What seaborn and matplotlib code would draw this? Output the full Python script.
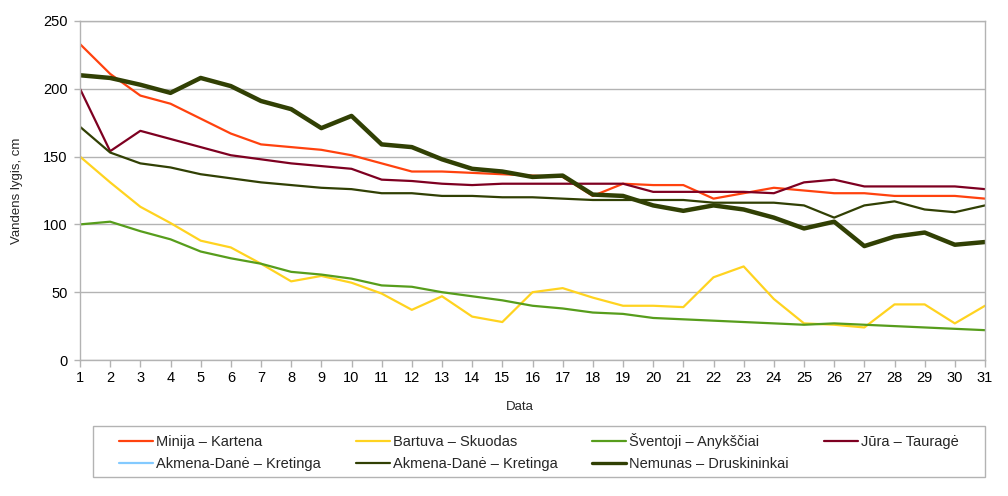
import numpy as np
import pandas as pd
import matplotlib
matplotlib.use("Agg")
import matplotlib.pyplot as plt
from matplotlib.patches import Rectangle
import seaborn as sns

# water levels (cm), days 1..31
days = list(range(1, 32))
minija = [233, 211, 195, 189, 178, 167, 159, 157, 155, 151, 145, 139, 139, 138, 137, 136, 135,
          121, 130, 129, 129, 119, 123, 127, 125, 123, 123, 121, 121, 121, 119]
bartuva = [150, 131, 113, 101, 88, 83, 71, 58, 62, 57, 49, 37, 47, 32, 28, 50, 53, 46, 40, 40,
           39, 61, 69, 45, 27, 26, 24, 41, 41, 27, 40]
sventoji = [100, 102, 95, 89, 80, 75, 71, 65, 63, 60, 55, 54, 50, 47, 44, 40, 38, 35, 34, 31,
            30, 29, 28, 27, 26, 27, 26, 25, 24, 23, 22]
jura = [200, 154, 169, 163, 157, 151, 148, 145, 143, 141, 133, 132, 130, 129, 130, 130, 130,
        130, 130, 124, 124, 124, 124, 123, 131, 133, 128, 128, 128, 128, 126]
akmena_empty = [np.nan] * 31  # series in legend, no data shown
akmena = [172, 153, 145, 142, 137, 134, 131, 129, 127, 126, 123, 123, 121, 121, 120, 120, 119,
          118, 118, 118, 118, 116, 116, 116, 114, 105, 114, 117, 111, 109, 114]
nemunas = [210, 208, 203, 197, 208, 202, 191, 185, 171, 180, 159, 157, 148, 141, 139, 135, 136,
           122, 121, 114, 110, 114, 111, 105, 97, 102, 84, 91, 94, 85, 87]

names = ["Minija – Kartena", "Bartuva – Skuodas", "Šventoji – Anykščiai", "Jūra – Tauragė",
         "Akmena-Danė – Kretinga", "Akmena-Danė – Kretinga", "Nemunas – Druskininkai"]
colors = ["#ff420e", "#ffd320", "#579d1c", "#7e0021", "#83caff", "#314004", "#314004"]
widths = [1.6, 1.6, 1.6, 1.6, 1.6, 1.6, 3.2]
series = [minija, bartuva, sventoji, jura, akmena_empty, akmena, nemunas]

sns.set_style("white")
plt.rcParams['font.family'] = ['Liberation Sans', 'DejaVu Sans']
plt.rcParams['font.size'] = 10

fig = plt.figure(figsize=(10.08, 4.96), dpi=100)
ax = fig.add_axes([80 / 1008, 1 - 360 / 496, 905 / 1008, 339 / 496])

for name, vals, c, lw in zip(names, series, colors, widths):
    if np.all(np.isnan(vals)):
        ax.plot(days, vals, color=c, linewidth=lw)
    else:
        df = pd.DataFrame({"Data": days, "lygis": vals})
        sns.lineplot(data=df, x="Data", y="lygis", color=c, linewidth=lw, ax=ax)

ax.set_xlim(1, 31)
ax.set_ylim(0, 250)
ax.set_xticks(days)
ax.set_yticks(range(0, 251, 50))
ax.yaxis.grid(True, color="#b3b3b3", linewidth=1)
ax.set_axisbelow(True)
for s in ax.spines.values():
    s.set_color("#b3b3b3")
    s.set_linewidth(1)
ax.tick_params(axis="both", colors="#b3b3b3", labelcolor="black", labelsize=10.5, width=1)
ax.tick_params(axis="x", length=5, pad=3, direction="out", bottom=True)
ax.tick_params(axis="y", length=4, pad=5, direction="out", left=True)
ax.set_xlabel("Data", fontsize=9.5)
ax.xaxis.set_label_coords((519.5 - 80) / 905, (360 - 401) / 339)
ax.set_ylabel("Vandens lygis, cm", fontsize=9.5, labelpad=14)

# legend box drawn separately, entries placed inside
fig.patches.append(Rectangle((93 / 1008, 1 - 477 / 496), 892 / 1008, 51 / 496,
                             transform=fig.transFigure, fill=False,
                             edgecolor="#b3b3b3", linewidth=1))
leg_widths = [1.6, 1.6, 1.6, 1.6, 1.6, 1.6, 2.4]
handles = [plt.Line2D([], [], color=c, linewidth=lw) for c, lw in zip(colors, leg_widths)]
order = [0, 4, 1, 5, 2, 6, 3]
leg = fig.legend([handles[i] for i in order], [names[i] for i in order], ncol=4,
                 loc="upper left", bbox_to_anchor=(119 / 1008, 1 - 433 / 496),
                 frameon=False, handlelength=2.33, handletextpad=0.2, columnspacing=2.4,
                 borderaxespad=0, borderpad=0, labelspacing=0.58, fontsize=10.5)

fig.savefig("out.png", dpi=100)
